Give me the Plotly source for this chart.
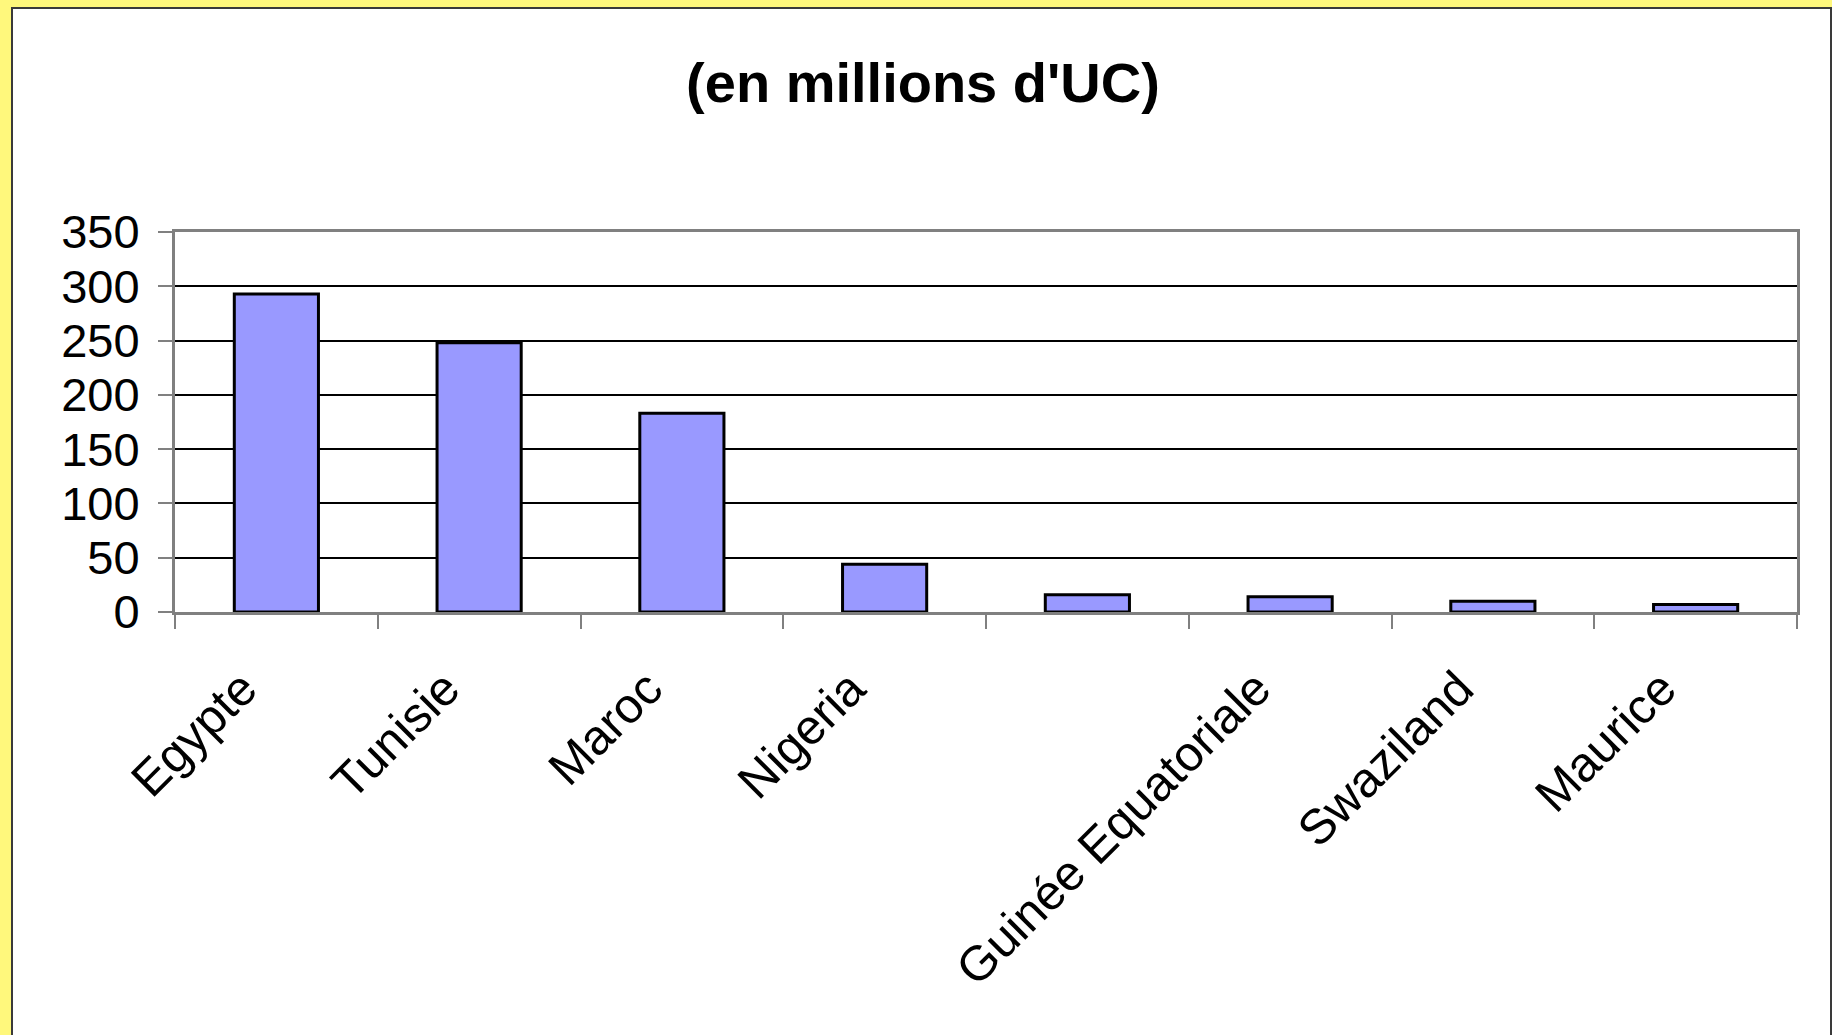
import plotly.graph_objects as go

# Data
categories = ["Egypte", "Tunisie", "Maroc", "Nigeria", " ", "Guinée Equatoriale", "Swaziland", "Maurice"]
values = [293, 248, 183, 44, 16, 14, 10, 7]
y_ticks = [0, 50, 100, 150, 200, 250, 300, 350]
title_text = "(en millions d'UC)"

FONT = "Liberation Sans, Arial, sans-serif"

fig = go.Figure()
fig.add_trace(go.Bar(
    x=categories,
    y=values,
    marker=dict(color="#9999FF", line=dict(color="#000000", width=3)),
))

# figure geometry (pixels)
W, H = 1832, 1035
L, R, T, B = 175, 35, 232, 423
pw, ph = W - L - R, H - T - B

def px_x(p):
    return (p - L) / pw

def px_y(p):
    return (H - B - p) / ph

fig.update_layout(
    width=W, height=H,
    margin=dict(l=L, r=R, t=T, b=B, pad=0),
    paper_bgcolor="#FFF87C",
    plot_bgcolor="#C0C0C0",
    showlegend=False,
    bargap=0.585,
    font=dict(family=FONT, color="#000000", size=46),
    title=dict(
        text=title_text,
        font=dict(family=FONT, size=56, color="#000000", weight="bold"),
        x=923 / W, xanchor="center",
        y=1 - 82 / H, yanchor="middle", yref="container",
    ),
    shapes=[
        dict(type="rect", xref="paper", yref="paper", layer="below",
             x0=px_x(12), x1=px_x(1831), y0=px_y(1045), y1=px_y(8),
             fillcolor="#FFFFFF", line=dict(color="#3A3A3A", width=2)),
    ],
    xaxis=dict(
        type="category",
        tickson="boundaries",
        ticks="outside", ticklen=14, tickwidth=2, tickcolor="#808080",
        showline=True, linecolor="#808080", linewidth=3, mirror=True,
        showgrid=False,
        tickangle=-45,
        tickfont=dict(family=FONT, size=49, color="#000000"),
        ticklabelstandoff=25,
        ticklabelshift=-34,
    ),
    yaxis=dict(
        range=[0, 350],
        tickvals=y_ticks,
        ticktext=[str(v) for v in y_ticks],
        ticks="outside", ticklen=14, tickwidth=2, tickcolor="#808080",
        showline=True, linecolor="#808080", linewidth=3, mirror=True,
        showgrid=True, gridcolor="#000000", gridwidth=1.5,
        zeroline=False,
        tickfont=dict(family=FONT, size=47, color="#000000"),
        ticklabelstandoff=9,
    ),
)

fig.write_html("out.html", config={"displayModeBar": False},
               post_script="document.body.style.margin='0';document.body.style.overflow='hidden';")
